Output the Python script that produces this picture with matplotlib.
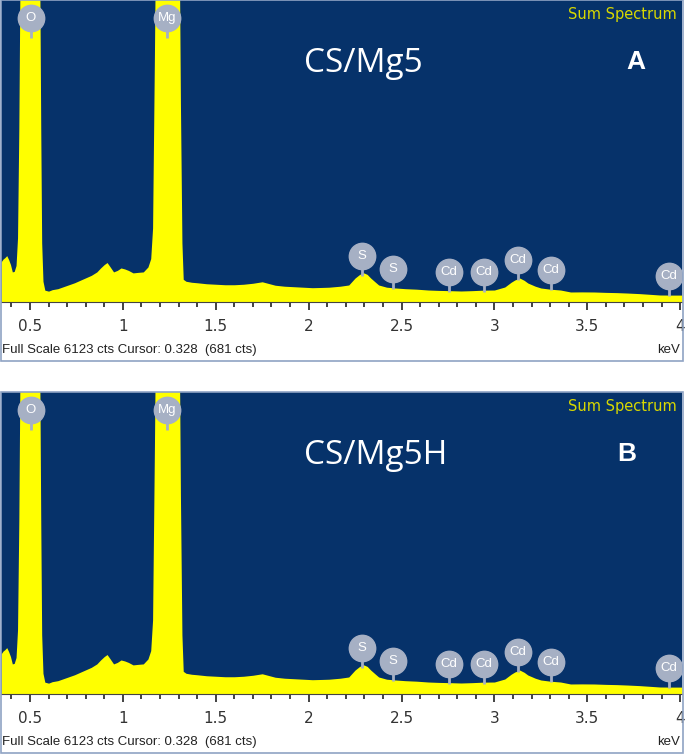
import matplotlib.pyplot as plt
import matplotlib.patches as patches
from matplotlib.ticker import MultipleLocator

# spectrum (same in both panels)
energy_kev = [0.344, 0.355, 0.365, 0.375, 0.385, 0.395, 0.405, 0.415, 0.425, 0.433,
              0.440, 0.447, 0.455, 0.500, 0.545, 0.552, 0.558, 0.563, 0.570, 0.580,
              0.600, 0.620, 0.650, 0.680, 0.710, 0.740, 0.770, 0.800, 0.830, 0.860,
              0.880, 0.900, 0.915, 0.930, 0.950, 0.970, 0.990, 1.010, 1.030, 1.055,
              1.080, 1.110, 1.135, 1.150, 1.160, 1.170, 1.180, 1.240, 1.300, 1.310,
              1.318, 1.325, 1.340, 1.370, 1.400, 1.450, 1.500, 1.550, 1.600, 1.650,
              1.700, 1.750, 1.780, 1.820, 1.870, 1.920, 1.970, 2.020, 2.070, 2.110,
              2.170, 2.216, 2.250, 2.275, 2.297, 2.315, 2.334, 2.360, 2.377, 2.420,
              2.468, 2.520, 2.580, 2.644, 2.700, 2.760, 2.820, 2.880, 2.940, 3.000,
              3.056, 3.090, 3.110, 3.136, 3.160, 3.180, 3.220, 3.250, 3.300, 3.356,
              3.410, 3.470, 3.537, 3.600, 3.660, 3.714, 3.780, 3.840, 3.890, 3.950,
              4.010]
counts = [810, 870, 900, 940, 860, 760, 610, 620, 740, 1300,
          3500, 7000, 9000, 9500, 9000, 7000, 3500, 1200, 420, 240,
          220, 250, 270, 310, 350, 390, 440, 490, 540, 610,
          690, 760, 800, 720, 610, 640, 690, 670, 640, 590,
          600, 610, 710, 880, 1500, 5000, 9000, 10000, 9000, 4000,
          1200, 460, 420, 400, 390, 370, 360, 350, 350, 360,
          380, 410, 380, 340, 320, 310, 300, 290, 295, 300,
          320, 345, 486, 560, 590, 560, 486, 400, 345, 300,
          284, 270, 260, 243, 235, 230, 223, 230, 240, 243,
          304, 400, 446, 486, 440, 385, 320, 284, 260, 243,
          203, 205, 203, 195, 190, 182, 170, 155, 142, 140,
          140]

# element markers
peak_labels = ['O', 'Mg', 'S', 'S', 'Cd', 'Cd', 'Cd', 'Cd', 'Cd']
peak_kev = [0.505, 1.238, 2.288, 2.455, 2.756, 2.945, 3.128, 3.306, 3.941]
peak_cts = [5757, 5757, 932, 669, 608, 608, 851, 649, 527]

samples = ['CS/Mg5', 'CS/Mg5H']
panel_tags = ['A', 'B']
full_scale = 6123

W, H = 685, 755
fig = plt.figure(figsize=(W / 100, H / 100), dpi=100)
fig.patch.set_facecolor('white')

navy = '#06326a'
yellow = '#ffff00'
marker_col = '#a6b0c4'

panel_tops = [0, 392]
tag_x = [636, 627]
for i in range(2):
    top = panel_tops[i]
    ax = fig.add_axes([1 / W, (H - top - 302) / H, 681 / W, 302 / H])
    ax.set_facecolor(navy)
    ax.fill_between(energy_kev, counts, 0, color=yellow, lw=0)
    ax.set_xlim(0.344, 4.01)
    ax.set_ylim(0, full_scale)
    ax.set_yticks([])
    ax.xaxis.set_minor_locator(MultipleLocator(0.1))
    ax.set_xticks([0.5, 1, 1.5, 2, 2.5, 3, 3.5, 4])
    ax.set_xticklabels(['0.5', '1', '1.5', '2', '2.5', '3', '3.5', '4'])
    ax.tick_params(axis='x', which='major', length=6, width=1.2, color='#222222',
                   labelsize=11, labelcolor='#333333', pad=6)
    ax.tick_params(axis='x', which='minor', length=3.5, width=1.2, color='#222222')
    for s in ['top', 'left', 'right']:
        ax.spines[s].set_visible(False)
    ax.spines['bottom'].set_color('#444444')

    for lab, x, y in zip(peak_labels, peak_kev, peak_cts):
        ax.plot([x, x], [y, y - 400], color=marker_col, lw=2, solid_capstyle='butt', zorder=3)
        ax.plot(x, y, 'o', ms=19, color=marker_col, mec=marker_col, zorder=4)
        ax.text(x, y, lab, color='white', ha='center', va='center',
                fontsize=9.5, family='Liberation Sans', zorder=5)

    ax.text(676 / 681, 1 - 14 / 302, 'Sum Spectrum', transform=ax.transAxes,
            ha='right', va='center', color='#d8d800', fontsize=10.5, family='DejaVu Sans')
    ax.text(303 / 681, 1 - 64 / 302, samples[i], transform=ax.transAxes,
            ha='left', va='center', color='white', fontsize=24, family='Open Sans')
    ax.text((tag_x[i] - 1) / 681, 1 - 62 / 302, panel_tags[i], transform=ax.transAxes,
            ha='center', va='center', color='white', fontsize=19, fontweight='bold',
            family='Liberation Sans')

    # footer line and frame
    fig.text(2 / W, 1 - (top + 350) / H, 'Full Scale %d cts Cursor: 0.328  (681 cts)' % full_scale,
             ha='left', va='center', fontsize=9.5, color='#222222', family='Liberation Sans')
    fig.text(680 / W, 1 - (top + 350) / H, 'keV', ha='right', va='center',
             fontsize=9.5, color='#222222', family='Liberation Sans')
    fig.add_artist(patches.Rectangle((1 / W, 1 - (top + 361) / H), 682 / W, 361 / H,
                                     transform=fig.transFigure, fill=False,
                                     edgecolor='#8fa3c4', lw=1.2))

fig.savefig('out.png', dpi=100)
